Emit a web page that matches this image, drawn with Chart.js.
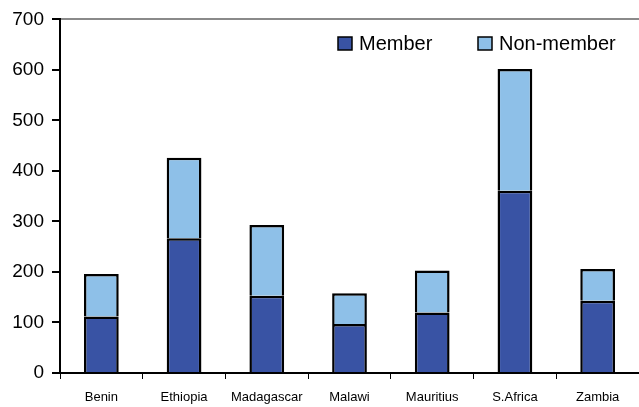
<!DOCTYPE html>
<html>
<head>
<meta charset="utf-8">
<script src="https://cdn.jsdelivr.net/npm/chart.js@4/dist/chart.umd.min.js"></script>
<style>
  html, body { margin: 0; padding: 0; background: #fff; }
  #wrap { width: 639px; height: 407px; }
</style>
</head>
<body>
<div id="wrap"><canvas id="membersChart"></canvas></div>
<script>
const countries = ['Benin', 'Ethiopia', 'Madagascar', 'Malawi', 'Mauritius', 'S.Africa', 'Zambia'];
const memberValues = [112, 267, 153, 97, 120, 361, 143];
const nonMemberValues = [84, 159, 140, 61, 83, 241, 63];
const yTicks = [0, 100, 200, 300, 400, 500, 600, 700];

const chartEl = document.getElementById('membersChart');
const ctxMembers = chartEl.getContext('2d');

// legend drawn inside the plot, top right
const insideLegend = {
  id: 'insideLegend',
  afterDraw(chart) {
    const c = chart.ctx;
    const items = [
      { text: 'Member', x: 338 },
      { text: 'Non-member', x: 478 }
    ];
    c.save();
    c.font = '20px "Liberation Sans", Arial, sans-serif';
    c.textBaseline = 'middle';
    items.forEach((item, i) => {
      const ds = chart.data.datasets[i];
      c.fillStyle = ds.backgroundColor;
      c.fillRect(item.x, 37, 14, 13);
      c.strokeStyle = '#000';
      c.lineWidth = 1.5;
      c.strokeRect(item.x, 37, 14, 13);
      c.fillStyle = '#000';
      c.fillText(item.text, item.x + 21, 44);
    });
    c.restore();
  }
};

const membersChart = new Chart(ctxMembers, {
  type: 'bar',
  data: {
    labels: countries,
    datasets: [{
      label: 'Member',
      data: memberValues,
      backgroundColor: '#3953a4',
      borderColor: '#000',
      borderWidth: 2.5,
      barPercentage: 0.42,
      categoryPercentage: 1
    },
    {
      label: 'Non-member',
      data: nonMemberValues,
      backgroundColor: '#8ec0e8',
      borderColor: '#000',
      borderWidth: 2.5,
      barPercentage: 0.42,
      categoryPercentage: 1
    }]
  },
  options: {
    animation: false,
    responsive: true,
    maintainAspectRatio: false,
    layout: { padding: { top: 9, right: 0, left: 0, bottom: 0 } },
    plugins: {
      legend: { display: false },
      tooltip: { enabled: false }
    },
    scales: {
      x: {
        stacked: true,
        grid: {
          offset: true,
          color: 'transparent',
          tickColor: '#000',
          tickLength: 6
        },
        border: { color: '#000', width: 2 },
        ticks: {
          color: '#000',
          padding: 11,
          maxRotation: 0,
          autoSkip: false,
          font: { family: '"Liberation Sans", Arial, sans-serif', size: 13 }
        },
        afterFit(scale) { scale.height = 34; }
      },
      y: {
        stacked: true,
        min: 0,
        max: 700,
        afterBuildTicks(scale) { scale.ticks = yTicks.map(v => ({ value: v })); },
        grid: {
          color: (c) => c.tick && c.tick.value === 700 ? '#8a8a8a' : 'transparent',
          lineWidth: 2,
          tickColor: '#000',
          tickLength: 8
        },
        border: { color: '#000', width: 2 },
        ticks: {
          color: '#000',
          padding: 8,
          font: { family: '"Liberation Sans", Arial, sans-serif', size: 19 }
        },
        afterFit(scale) { scale.width = 60; }
      }
    }
  },
  plugins: [insideLegend]
});
</script>
</body>
</html>
